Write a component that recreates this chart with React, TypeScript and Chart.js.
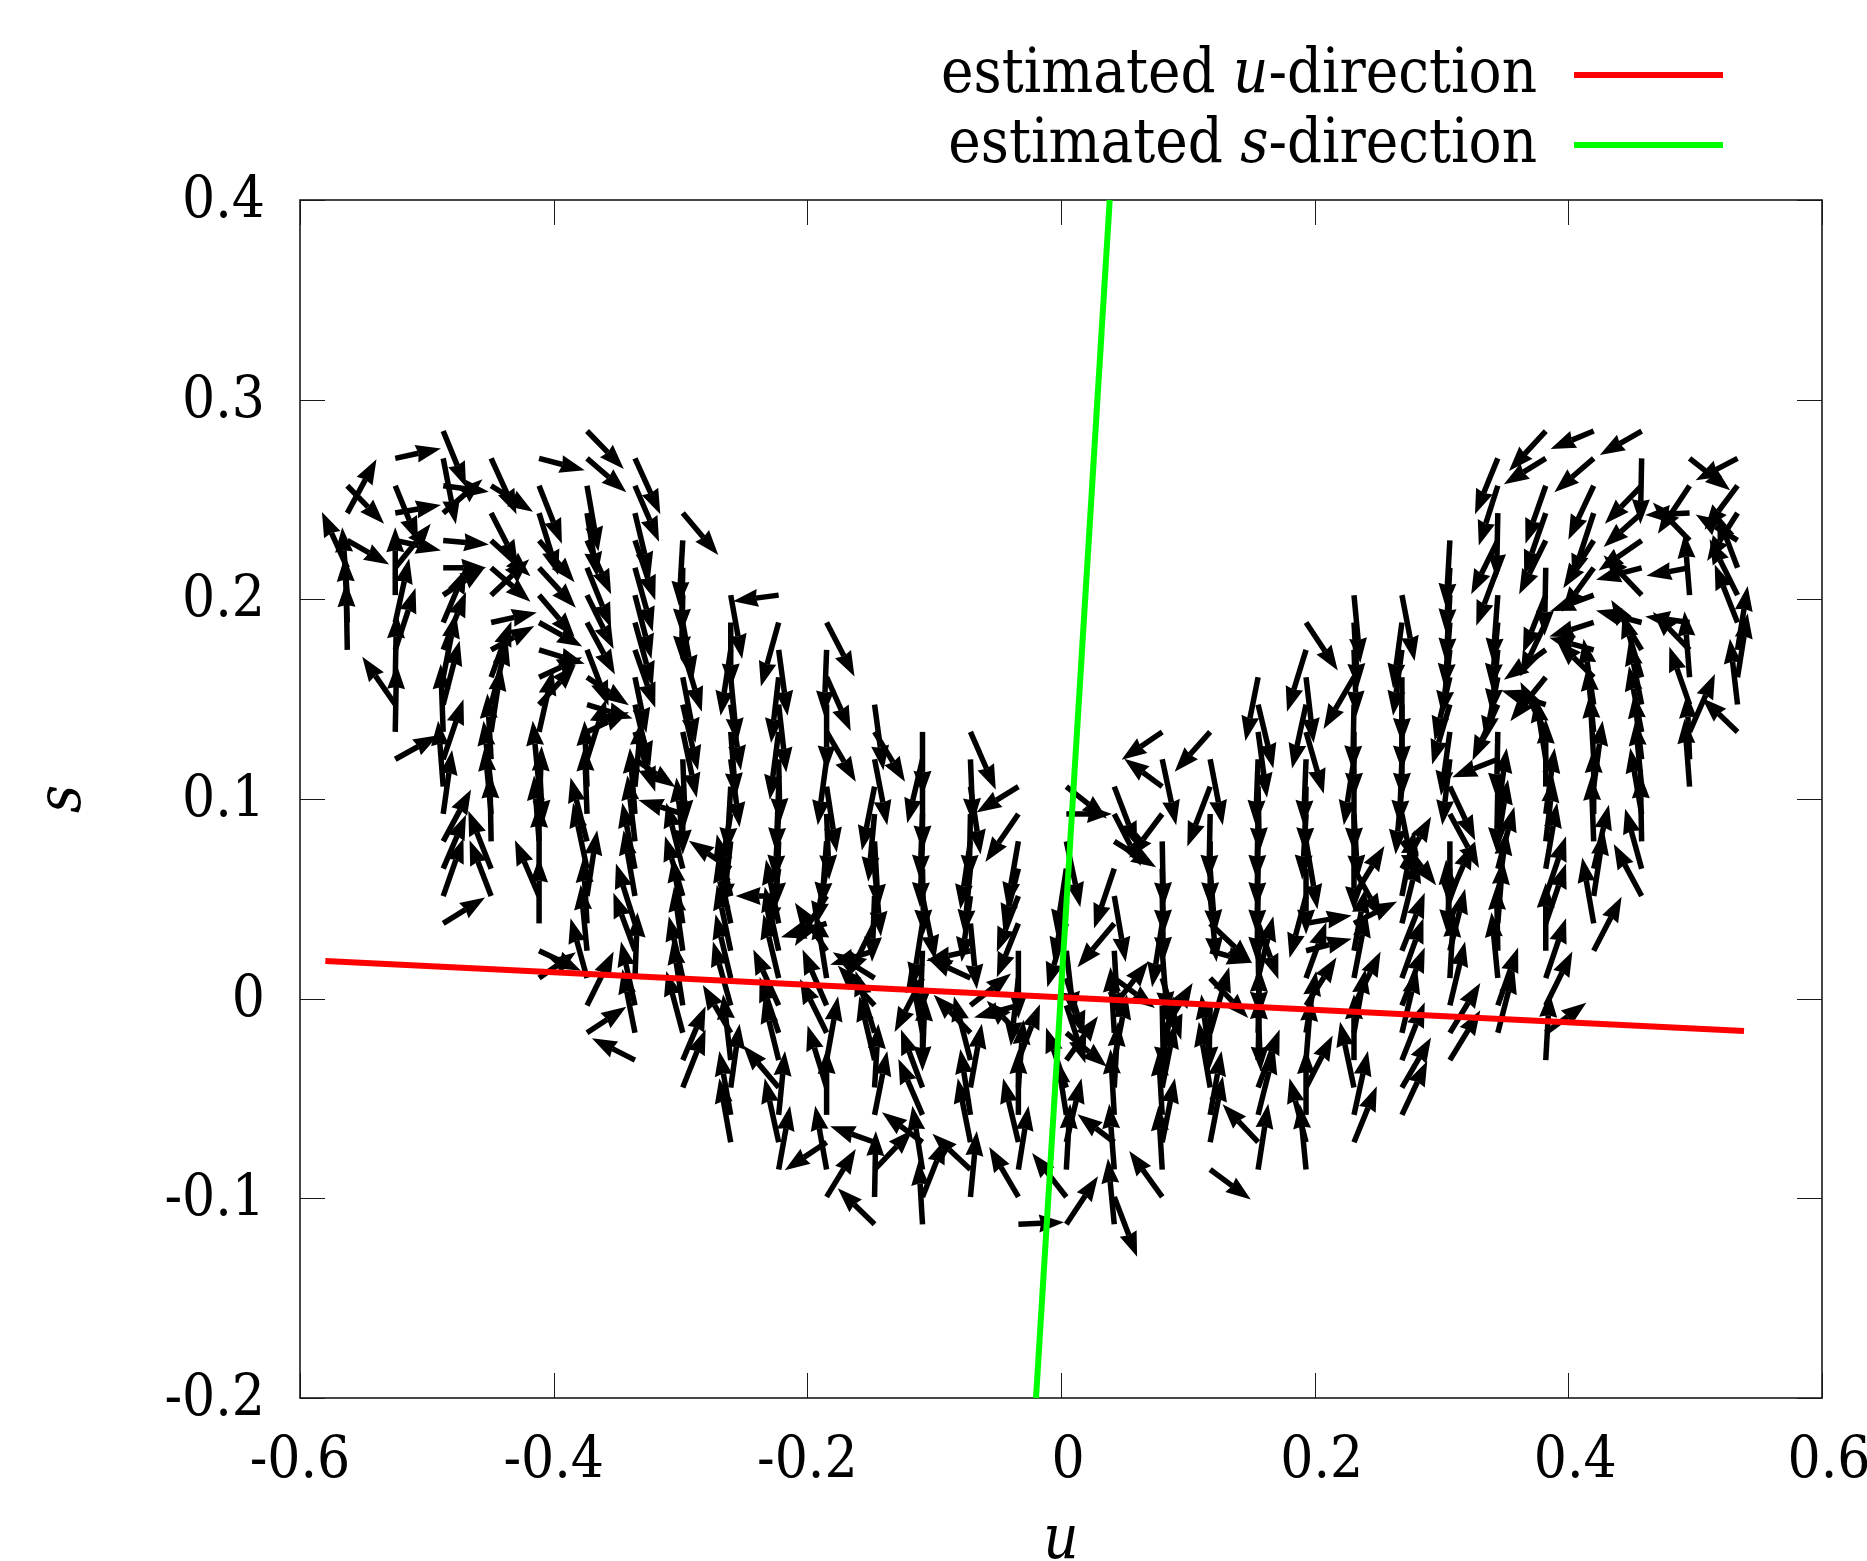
import React, { useEffect, useRef } from "react";
import { Chart, registerables } from "chart.js";

Chart.register(...registerables);

const FONT = '"DejaVu Serif Condensed", "DejaVu Serif"';

const xTickValues = [-0.6, -0.4, -0.2, 0, 0.2, 0.4, 0.6];
const xTickLabels = ["-0.6", "-0.4", "-0.2", "0", "0.2", "0.4", "0.6"];
const yTickValues = [-0.2, -0.1, 0, 0.1, 0.2, 0.3, 0.4];
const yTickLabels = ["-0.2", "-0.1", "0", "0.1", "0.2", "0.3", "0.4"];

const uDirection = [
  { x: -0.58, y: 0.0189 },
  { x: 0.5385, y: -0.0162 },
];
const sDirection = [
  { x: -0.0197, y: -0.2 },
  { x: 0.0384, y: 0.4 },
];

// tail positions of the arrow grid
const uGrid = [-0.5627, -0.5249, -0.4871, -0.4493, -0.4115, -0.3737, -0.3359, -0.2982, -0.2604, -0.2226, -0.1848, -0.147, -0.1092, -0.0714, -0.0336, 0.0042, 0.042, 0.0798, 0.1176, 0.1554, 0.1932, 0.231, 0.2688, 0.3066, 0.3444, 0.3822, 0.42, 0.4578, 0.4956, 0.5334];
const sGrid = [0.2843, 0.2706, 0.2569, 0.2432, 0.2295, 0.2158, 0.2021, 0.1884, 0.1747, 0.161, 0.1473, 0.1336, 0.1199, 0.1062, 0.0925, 0.0788, 0.0651, 0.0514, 0.0377, 0.024, 0.0103, -0.0034, -0.0171, -0.0308, -0.0445, -0.0582, -0.0719, -0.0856, -0.0993, -0.113];

// each arrow: [row, du, ds], du and ds in thousandths
const col00 = [[2,29,-19],[3,23,27],[4,33,-12],[5,-20,28],[6,-4,34],[7,-2,33],[8,-1,34]];
const col01 = [[1,36,5],[2,18,-28],[3,36,4],[4,36,-5],[5,28,22],[6,0,34],[7,11,32],[8,16,31],[9,1,32],[10,-26,24],[11,1,34],[12,34,12]];
const col02 = [[0,18,-28],[1,10,-33],[2,36,-3],[3,31,17],[4,36,-2],[5,34,0],[6,33,14],[7,18,27],[8,18,29],[9,10,32],[10,13,32],[11,-2,34],[12,16,30],[13,-4,33],[14,7,32],[15,22,26],[16,18,27],[17,16,29],[18,33,13]];
const col03 = [[1,20,-28],[2,33,-13],[3,21,-26],[4,31,-18],[5,31,-17],[6,30,18],[7,36,5],[8,34,12],[9,16,28],[10,13,32],[11,8,33],[12,-3,33],[13,-6,33],[14,-5,34],[15,-1,34],[16,-18,29],[17,-17,28]];
const col04 = [[1,36,-6],[2,18,-29],[3,15,-31],[4,28,-21],[5,29,-20],[6,28,-21],[7,34,-12],[8,36,-7],[9,34,10],[10,29,20],[11,11,31],[12,3,-33],[13,-5,33],[14,2,34],[15,-4,33],[16,0,33],[17,-19,28],[18,0,33],[19,33,-10],[20,29,13]];
const col05 = [[0,29,-19],[1,31,-17],[2,9,-33],[3,8,-32],[4,19,-27],[5,19,-30],[6,21,-27],[7,22,-26],[8,17,-28],[9,33,-14],[10,36,-7],[11,33,10],[12,15,30],[13,-2,33],[14,-2,34],[15,-13,32],[16,-11,33],[17,8,33],[18,-3,33],[19,-5,33],[20,-13,30],[21,21,27],[22,31,13]];
const col06 = [[1,20,-28],[2,19,-28],[3,12,-32],[4,16,-30],[5,14,-32],[6,13,-32],[7,14,-32],[8,16,-29],[9,9,-28],[10,12,-31],[11,16,-30],[12,32,-14],[13,5,33],[14,-4,33],[15,-6,33],[16,-10,33],[17,-9,33],[18,-15,30],[19,-17,29],[20,2,33],[21,-11,32],[22,-10,32],[23,-34,11]];
const col07 = [[3,28,-21],[4,-3,-33],[5,-1,-33],[6,-1,-33],[7,8,-29],[8,15,-31],[9,10,-33],[10,12,-33],[11,11,-33],[12,2,-33],[13,0,-34],[14,-35,7],[15,-5,32],[16,-13,33],[17,-14,30],[18,-8,33],[19,-7,32],[20,-11,31],[21,-8,33],[22,-13,31],[23,18,27],[24,18,29]];
const col08 = [[6,9,-32],[7,0,-33],[8,-8,-33],[9,5,-33],[10,8,-33],[11,4,-33],[12,7,-34],[13,-3,-33],[14,-9,-33],[15,-6,-33],[16,-33,14],[17,-11,31],[18,-11,33],[19,-11,33],[20,-12,32],[21,-14,32],[22,-22,24],[23,-6,33],[24,7,32],[25,-9,32],[26,-9,32]];
const col09 = [[6,-36,-3],[7,-14,-32],[8,7,-33],[9,-6,-33],[10,6,-34],[11,-7,-34],[12,1,-32],[13,-2,-33],[14,-3,-33],[15,-2,-33],[16,-8,-31],[17,-34,0],[18,-10,32],[19,-11,32],[20,-12,32],[21,-20,28],[22,-15,28],[23,-12,31],[24,-28,21],[25,5,32],[26,-11,32],[27,9,32]];
const col10 = [[7,22,-27],[8,-2,-33],[9,19,-27],[10,0,-33],[11,23,-25],[12,-7,-33],[13,8,-33],[14,2,-33],[15,-4,-33],[16,-9,-29],[17,-25,-25],[18,-36,-7],[19,-25,24],[20,-8,32],[21,-19,28],[22,-21,27],[23,9,32],[24,-15,31],[25,0,33],[26,-33,-14],[27,-9,32],[28,23,24]];
const col11 = [[10,7,-33],[11,24,-25],[12,10,-33],[13,-10,-32],[14,-5,-34],[15,3,-34],[16,5,-34],[17,-2,-33],[18,-21,-27],[19,-35,-7],[20,-33,13],[21,-29,20],[22,-15,31],[23,-12,32],[24,3,32],[25,10,32],[26,-35,8],[27,30,20],[28,1,33],[29,-29,18]];
const col12 = [[11,0,-32],[12,-12,-32],[13,0,-32],[14,-2,-33],[15,-2,-33],[16,1,-33],[17,10,-32],[18,-8,-32],[19,-2,-33],[20,-22,-27],[21,0,-33],[22,-10,33],[23,2,32],[24,-17,29],[25,-19,28],[26,-32,15],[27,-8,32],[28,18,29],[29,-3,32]];
const col13 = [[11,20,-29],[12,2,-32],[13,8,-34],[14,-1,-33],[15,-8,-34],[16,-5,-33],[17,-7,-33],[18,5,-33],[19,-35,-5],[20,-34,10],[21,32,16],[22,-29,19],[23,-13,32],[24,9,32],[25,-8,33],[26,-10,32],[27,-30,18],[28,5,33]];
const col14 = [[13,-33,-13],[14,-26,-24],[15,-9,-33],[16,-12,-30],[17,-17,-28],[18,-17,-27],[19,0,-34],[20,-6,-34],[21,-35,-6],[22,-25,16],[23,17,28],[24,4,34],[25,0,33],[26,-12,32],[27,8,32],[28,-23,25],[29,36,1]];
const col15 = [[13,32,-16],[14,36,0],[15,11,-33],[16,-8,-33],[17,-10,-33],[18,-15,-32],[19,6,-33],[20,14,-29],[21,15,-29],[22,32,-17],[23,25,22],[24,-16,30],[25,-7,28],[26,12,32],[27,3,33],[28,-27,22],[29,25,24]];
const col16 = [[13,18,-30],[14,21,-26],[15,33,-13],[16,-16,-30],[17,9,-33],[18,-29,-22],[19,3,-33],[20,32,-15],[21,27,22],[22,-3,33],[23,10,33],[24,3,33],[25,-3,33],[26,-29,14],[27,-4,33],[28,18,-30],[29,-5,33]];
const col17 = [[11,-32,-14],[12,11,-33],[13,-30,14],[14,-26,-22],[15,1,-33],[16,1,-33],[17,1,-33],[18,-8,-32],[19,4,-33],[20,15,-31],[21,1,-33],[22,24,25],[23,9,32],[24,10,32],[25,-3,32],[26,10,32],[27,-3,32],[28,-26,23]];
const col18 = [[11,-28,-20],[12,10,-33],[13,-18,-30],[14,-1,-33],[15,0,-33],[16,4,-33],[17,5,-33],[18,33,-20],[19,33,-6],[20,30,-20],[21,-1,-33],[22,15,33],[23,-7,33],[24,-9,33],[25,9,32],[26,10,33],[27,32,-15]];
const col19 = [[9,-10,-32],[10,12,-32],[11,7,-33],[12,-2,-33],[13,1,-33],[14,-1,-33],[15,-1,-33],[16,-1,-33],[17,-1,-33],[18,16,-28],[19,1,-33],[20,12,31],[21,2,-33],[22,1,33],[23,1,33],[24,17,29],[25,13,33],[26,-28,19],[27,8,33]];
const col20 = [[7,25,-24],[8,-15,-31],[9,6,-33],[10,-11,-32],[11,14,-31],[12,-2,-33],[13,-1,-33],[14,-3,-33],[15,9,-34],[16,0,-33],[17,-13,-31],[18,36,4],[19,36,6],[20,16,28],[21,24,24],[22,8,31],[23,4,32],[24,21,26],[25,0,33],[26,-13,32],[27,-5,33]];
const col21 = [[6,5,-34],[7,3,-33],[8,2,-33],[9,-24,-26],[10,-1,-33],[11,0,-33],[12,-8,-33],[13,0,-33],[14,3,-33],[15,0,-35],[16,22,-25],[17,24,25],[18,34,11],[19,9,31],[20,10,33],[21,21,27],[22,9,32],[23,0,33],[24,-11,33],[25,11,32],[26,18,28]];
const col22 = [[6,10,-33],[7,-7,-33],[8,-7,-33],[9,0,-33],[10,0,-33],[11,0,-33],[12,-2,-33],[13,-5,-34],[14,10,-32],[15,27,-22],[16,23,26],[17,10,33],[18,13,33],[19,18,29],[20,17,30],[21,18,29],[22,12,32],[23,18,29],[24,23,25],[25,20,27]];
const col23 = [[4,-3,-34],[5,-3,-33],[6,-3,-34],[7,-4,-33],[8,-6,-33],[9,-12,-32],[10,-14,-30],[11,-7,-32],[12,-6,-33],[13,20,-27],[14,23,-27],[15,0,-33],[16,-2,-33],[17,18,26],[18,-3,32],[19,12,31],[20,3,33],[21,12,32],[22,24,25],[23,24,25]];
const col24 = [[1,-18,-28],[2,-15,-30],[3,-1,-33],[4,-21,-27],[5,-17,-29],[6,-4,-34],[7,-5,-33],[8,-5,-32],[9,-10,-32],[10,-20,-28],[11,-1,-33],[12,-36,-9],[13,-1,-33],[14,7,33],[15,8,31],[16,13,31],[17,7,33],[18,4,32],[19,-1,33],[20,-5,33],[21,16,29],[22,13,32]];
const col25 = [[0,-29,-20],[1,-33,-13],[2,-16,-29],[3,-17,-31],[4,-21,-27],[5,-1,-34],[6,-18,-29],[7,-20,-27],[8,-33,-15],[9,-28,-22],[10,-35,7],[11,-20,25],[12,-8,31],[13,0,34],[14,7,33],[15,6,32],[16,9,33],[17,16,30],[18,16,30],[19,0,34],[20,16,30],[21,21,27],[22,32,15],[23,3,34]];
const col26 = [[0,-34,-9],[1,-31,-17],[2,-20,-27],[3,-17,-33],[4,-24,-24],[5,-25,-22],[6,-34,-8],[7,-35,-7],[8,-35,6],[9,-29,18],[10,-8,33],[11,-5,33],[12,-3,33],[13,7,33],[14,0,33],[15,-2,33],[16,12,32],[17,8,33],[18,-9,33],[19,22,27]];
const col27 = [[0,-33,-12],[1,-1,-33],[2,-29,-19],[3,-30,-17],[4,-34,-15],[5,-36,-6],[6,-30,20],[7,-36,6],[8,-24,25],[9,-15,32],[10,-10,32],[11,-10,33],[12,-6,33],[13,-5,33],[14,-9,33],[15,-1,34],[16,-13,30],[17,-22,26]];
const col28 = [[1,32,-16],[2,-25,-24],[3,-35,-1],[4,-29,19],[5,-34,-4],[6,-4,31],[7,-35,3],[8,-29,19],[9,-4,33],[10,-16,29],[11,20,29],[12,-2,33],[13,-4,34]];
const col29 = [[1,-33,-11],[2,-26,-22],[3,-24,-24],[4,-33,13],[5,-16,27],[6,-22,28],[7,-18,29],[8,8,32],[9,8,32],[10,-6,33],[11,-28,17]];

const columns = [col00,col01,col02,col03,col04,col05,col06,col07,col08,col09,col10,col11,col12,col13,col14,col15,col16,col17,col18,col19,col20,col21,col22,col23,col24,col25,col26,col27,col28,col29];

const arrows = columns.flatMap((col, c) =>
  col.map(([r, du, ds]) => ({ x: uGrid[c], y: sGrid[r], du: du / 1000, ds: ds / 1000 }))
);

const PLOT = { left: 300, right: 1822, top: 200, bottom: 1398 };
const HEAD_LEN = 25;
const HEAD_HALF = 9;
const TICK_FONT = 58;
const LEGEND_FONT = 61;

const arrowPlugin = {
  id: "arrowPlugin",
  beforeDraw(chart: any) {
    // the reference sets non-negative x labels a little to the right of their ticks
    chart.scales.x.getLabelItems(chart.chartArea).forEach((it: any) => {
      if (!it.shifted && !String(it.label).startsWith("-")) {
        it.options.translation[0] += 7;
        it.shifted = true;
      }
    });
    chart.scales.y.getLabelItems(chart.chartArea).forEach((it: any) => {
      if (!it.shifted) {
        it.options.translation[1] += 2;
        it.shifted = true;
      }
    });
  },
  beforeDatasetsDraw(chart: any) {
    const { ctx, scales } = chart;
    const { left, right, top, bottom } = chart.chartArea;
    ctx.save();
    ctx.strokeStyle = "#1a1a1a";
    ctx.lineWidth = 1;
    ctx.beginPath();
    xTickValues.forEach((v) => {
      const px = Math.round(scales.x.getPixelForValue(v)) + 0.5;
      ctx.moveTo(px, bottom);
      ctx.lineTo(px, bottom - 25);
      ctx.moveTo(px, top);
      ctx.lineTo(px, top + 25);
    });
    yTickValues.forEach((v) => {
      const py = Math.round(scales.y.getPixelForValue(v)) + 0.5;
      ctx.moveTo(left, py);
      ctx.lineTo(left + 25, py);
      ctx.moveTo(right, py);
      ctx.lineTo(right - 25, py);
    });
    ctx.stroke();
    ctx.lineWidth = 1.6;
    ctx.strokeRect(left, top, right - left, bottom - top);
    ctx.restore();
  },
  afterDatasetDraw(chart: any, args: any) {
    if (args.index !== 2) return;
    const { ctx, scales } = chart;
    ctx.save();
    ctx.fillStyle = "#000";
    ctx.strokeStyle = "#000";
    ctx.lineWidth = 5.5;
    ctx.lineCap = "butt";
    chart.data.datasets[2].data.forEach((a: any) => {
      const x0 = scales.x.getPixelForValue(a.x);
      const y0 = scales.y.getPixelForValue(a.y);
      const x1 = scales.x.getPixelForValue(a.x + a.du);
      const y1 = scales.y.getPixelForValue(a.y + a.ds);
      const len = Math.hypot(x1 - x0, y1 - y0);
      const ux = (x1 - x0) / len;
      const uy = (y1 - y0) / len;
      const bx = x1 - ux * HEAD_LEN;
      const by = y1 - uy * HEAD_LEN;
      const nx = x1 - ux * (HEAD_LEN - 2);
      const ny = y1 - uy * (HEAD_LEN - 2);
      ctx.beginPath();
      ctx.moveTo(x0, y0);
      ctx.lineTo(nx, ny);
      ctx.stroke();
      ctx.beginPath();
      ctx.moveTo(x1, y1);
      ctx.lineTo(bx - uy * HEAD_HALF, by + ux * HEAD_HALF);
      ctx.lineTo(nx, ny);
      ctx.lineTo(bx + uy * HEAD_HALF, by - ux * HEAD_HALF);
      ctx.closePath();
      ctx.fill();
    });
    ctx.restore();
  },
  afterDraw(chart: any) {
    const { ctx } = chart;
    const rows = [
      { before: "estimated ", italic: "u", after: "-direction", y: 92, color: "#ff0000" },
      { before: "estimated ", italic: "s", after: "-direction", y: 162, color: "#00ff00" },
    ];
    ctx.save();
    ctx.fillStyle = "#000";
    ctx.textBaseline = "alphabetic";
    rows.forEach((r) => {
      const reg = `${LEGEND_FONT}px ${FONT}`;
      const ita = `italic ${LEGEND_FONT}px ${FONT}`;
      ctx.font = reg;
      const wb = ctx.measureText(r.before).width;
      const wa = ctx.measureText(r.after).width;
      ctx.font = ita;
      const wi = ctx.measureText(r.italic).width;
      let x = 1537 - (wb + wi + wa);
      ctx.font = reg;
      ctx.fillText(r.before, x, r.y);
      x += wb;
      ctx.font = ita;
      ctx.fillText(r.italic, x, r.y);
      x += wi;
      ctx.font = reg;
      ctx.fillText(r.after, x, r.y);
      ctx.fillStyle = r.color;
      ctx.fillRect(1574, r.y - 20, 149, 6);
      ctx.fillStyle = "#000";
    });
    ctx.restore();
  },
};

export default function App() {
  const ref = useRef<HTMLCanvasElement>(null);
  useEffect(() => {
    const chart = new Chart(ref.current as HTMLCanvasElement, {
      type: "scatter",
      plugins: [arrowPlugin],
      data: {
        datasets: [
          { label: "estimated s-direction", data: sDirection, showLine: true, borderColor: "#00ff00", borderWidth: 6, pointRadius: 0, clip: false },
          { label: "estimated u-direction", data: uDirection, showLine: true, borderColor: "#ff0000", borderWidth: 6, pointRadius: 0, clip: false },
          { label: "arrows", data: arrows, showLine: false, pointRadius: 0 },
        ],
      } as any,
      options: {
        animation: false,
        responsive: false,
        devicePixelRatio: 1,
        layout: { padding: { left: 0, top: PLOT.top, right: 1867 - PLOT.right, bottom: 0 } },
        plugins: { legend: { display: false }, tooltip: { enabled: false } },
        scales: {
          x: {
            type: "linear",
            min: -0.6,
            max: 0.6,
            afterBuildTicks: (s: any) => { s.ticks = xTickValues.map((value) => ({ value })); },
            afterFit: (s: any) => { s.height = 1561 - PLOT.bottom; s.paddingLeft = 0; s.paddingRight = 0; },
            ticks: {
              autoSkip: false,
              maxRotation: 0,
              color: "#000",
              padding: 21,
              font: { family: FONT, size: TICK_FONT },
              callback: (v: any) => xTickLabels[xTickValues.findIndex((t) => Math.abs(t - v) < 1e-9)],
            },
            grid: { display: false },
            border: { display: false },
            title: { display: true, text: "u", color: "#000", padding: { top: 0, bottom: -18 }, font: { family: FONT, size: LEGEND_FONT, style: "italic" } },
          },
          y: {
            type: "linear",
            min: -0.2,
            max: 0.4,
            afterBuildTicks: (s: any) => { s.ticks = yTickValues.map((value) => ({ value })); },
            afterFit: (s: any) => { s.width = PLOT.left; s.paddingTop = 0; s.paddingBottom = 0; },
            ticks: {
              autoSkip: false,
              color: "#000",
              padding: 27,
              font: { family: FONT, size: TICK_FONT },
              callback: (v: any) => yTickLabels[yTickValues.findIndex((t) => Math.abs(t - v) < 1e-9)],
            },
            grid: { display: false },
            border: { display: false },
            title: { display: true, text: "s", color: "#000", padding: { top: 28, bottom: 0 }, font: { family: FONT, size: LEGEND_FONT, style: "italic" } },
          },
        },
      } as any,
    });
    return () => chart.destroy();
  }, []);
  return (
    <canvas
      ref={ref}
      width={1867}
      height={1561}
      style={{ position: "absolute", left: 0, top: 0, width: 1867, height: 1561, display: "block" }}
    />
  );
}
